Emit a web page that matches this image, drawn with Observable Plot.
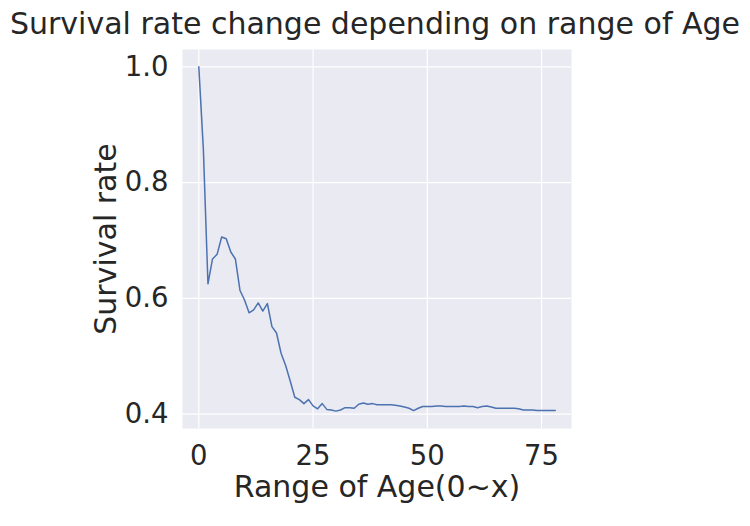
<!DOCTYPE html>
<html>
<head>
<meta charset="utf-8">
<script src="https://cdn.jsdelivr.net/npm/d3@7"></script>
<script src="https://cdn.jsdelivr.net/npm/@observablehq/plot@0.6"></script>
<style>
  html, body { margin: 0; padding: 0; background: #ffffff; overflow: hidden; }
  #title {
    box-sizing: border-box; width: 750px; height: 48px; padding-top: 9px;
    text-align: center; font-family: "DejaVu Sans", sans-serif; font-size: 30px;
    line-height: 30px; color: #262626; white-space: nowrap;
  }
</style>
</head>
<body>
<div id="title">Survival rate change depending on range of Age</div>
<div id="chart"></div>
<script>
// Range of Age upper bound index (0..78) and survival rate of passengers younger than it
const ageIndex = d3.range(0, 79);
const survivalRate = [
  1.000, 0.857, 0.625, 0.668, 0.676, 0.706, 0.703, 0.680, 0.668, 0.614,
  0.597, 0.575, 0.580, 0.592, 0.578, 0.591, 0.551, 0.540, 0.505, 0.484,
  0.457, 0.429, 0.425, 0.418, 0.425, 0.414, 0.409, 0.418, 0.408, 0.407,
  0.405, 0.407, 0.411, 0.411, 0.410, 0.417, 0.419, 0.417, 0.418, 0.416,
  0.416, 0.416, 0.416, 0.415, 0.414, 0.412, 0.410, 0.406, 0.410, 0.413,
  0.413, 0.413, 0.414, 0.414, 0.413, 0.413, 0.413, 0.413, 0.414, 0.413,
  0.413, 0.411, 0.413, 0.414, 0.412, 0.410, 0.410, 0.410, 0.410, 0.410,
  0.409, 0.407, 0.407, 0.407, 0.406, 0.406, 0.406, 0.406, 0.406
];
const xTicks = [0, 25, 50, 75];
const yTicks = [0.4, 0.6, 0.8, 1.0];
const xLabel = "Range of Age(0~x)";
const yLabel = "Survival rate";

const data = ageIndex.map((a, i) => ({x: a, y: survivalRate[i]}));

const chart = Plot.plot({
  width: 750,
  height: 478,
  marginTop: 1,
  marginBottom: 98,
  marginLeft: 182,
  marginRight: 179,
  style: {fontFamily: "DejaVu Sans, sans-serif", fontSize: "27.5px", color: "#262626", background: "#ffffff"},
  x: {domain: [-3.57, 81.55]},
  y: {domain: [0.375, 1.03]},
  marks: [
    Plot.frame({fill: "#EAEAF2", stroke: null}),
    Plot.gridX({ticks: xTicks, stroke: "#ffffff", strokeOpacity: 1, strokeWidth: 1.2}),
    Plot.gridY({ticks: yTicks, stroke: "#ffffff", strokeOpacity: 1, strokeWidth: 1.2}),
    Plot.axisX({ticks: xTicks, tickSize: 0, tickPadding: 17, label: null, fontSize: 27.5}),
    Plot.axisY({ticks: yTicks, tickSize: 0, tickPadding: 14, label: null, tickFormat: d3.format(".1f"), fontSize: 27.5}),
    Plot.line(data, {x: "x", y: "y", stroke: "#4C72B0", strokeWidth: 1.5}),
    Plot.text([xLabel], {frameAnchor: "bottom", textAnchor: "middle", lineAnchor: "top", dy: 47, fontSize: 30, fill: "#262626", text: d => d}),
    Plot.text([yLabel], {frameAnchor: "left", textAnchor: "middle", lineAnchor: "middle", rotate: -90, dx: -76.6, fontSize: 30, fill: "#262626", text: d => d})
  ]
});
document.getElementById("chart").appendChild(chart);
</script>
</body>
</html>
